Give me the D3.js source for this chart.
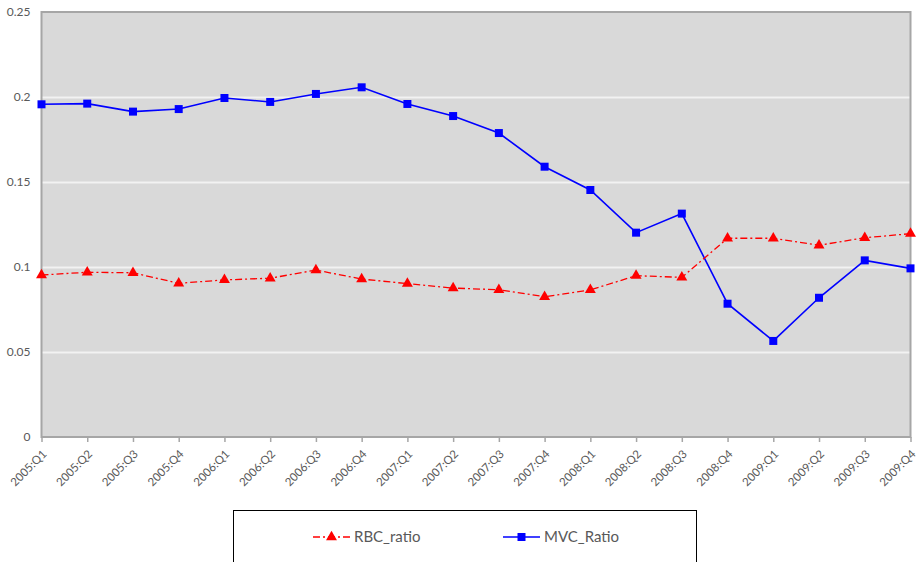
<!DOCTYPE html>
<html>
<head>
<meta charset="utf-8">
<script src="https://cdn.jsdelivr.net/npm/d3@7/dist/d3.min.js"></script>
<style>
  html, body { margin: 0; padding: 0; background: #fff; }
  svg { display: block; }
</style>
</head>
<body>
<svg id="chart" width="918" height="562"></svg>
<script>
// Quarterly periods
const quarters = [
  "2005:Q1","2005:Q2","2005:Q3","2005:Q4",
  "2006:Q1","2006:Q2","2006:Q3","2006:Q4",
  "2007:Q1","2007:Q2","2007:Q3","2007:Q4",
  "2008:Q1","2008:Q2","2008:Q3","2008:Q4",
  "2009:Q1","2009:Q2","2009:Q3","2009:Q4"
];

// Series values
const rbcRatio = [
  0.0953, 0.0969, 0.0966, 0.0904,
  0.0924, 0.0934, 0.0982, 0.0929,
  0.0902, 0.0876, 0.0866, 0.0825,
  0.0865, 0.0949, 0.0939, 0.1169,
  0.1169, 0.1128, 0.1172, 0.1196
];
const mvcRatio = [
  0.1957, 0.1961, 0.1914, 0.1929,
  0.1994, 0.1971, 0.2018, 0.2057,
  0.1959, 0.1888, 0.1788, 0.1590,
  0.1453, 0.1202, 0.1314, 0.0784,
  0.0565, 0.0819, 0.1039, 0.0992
];

// Y axis ticks
const yTicks = [0, 0.05, 0.1, 0.15, 0.2, 0.25];
const yTickLabels = ["0", "0.05", "0.1", "0.15", "0.2", "0.25"];

const seriesNames = ["RBC_ratio", "MVC_Ratio"];

const svg = d3.select("#chart");
const plot = { left: 41.5, right: 910.5, top: 12, bottom: 437 };

const x = d3.scalePoint().domain(quarters).range([plot.left, plot.right]);
const y = d3.scaleLinear().domain([0, 0.25]).range([plot.bottom, plot.top]);

// Plot background
svg.append("rect")
  .attr("x", plot.left).attr("y", plot.top)
  .attr("width", plot.right - plot.left).attr("height", plot.bottom - plot.top)
  .attr("fill", "#d9d9d9");

// Gridlines
svg.append("g")
  .selectAll("line")
  .data(yTicks.filter(v => v > 0 && v < 0.25))
  .join("line")
  .attr("x1", plot.left).attr("x2", plot.right)
  .attr("y1", d => Math.round(y(d)) + 0.5).attr("y2", d => Math.round(y(d)) + 0.5)
  .attr("stroke", "#f2f2f2").attr("stroke-width", 2);

// Plot border
svg.append("rect")
  .attr("x", plot.left).attr("y", plot.top)
  .attr("width", plot.right - plot.left).attr("height", plot.bottom - plot.top)
  .attr("fill", "none").attr("stroke", "#a6a6a6").attr("stroke-width", 2);

// Y axis
const yAxis = d3.axisLeft(y)
  .tickValues(yTicks)
  .tickFormat((d, i) => yTickLabels[i])
  .tickSize(0).tickPadding(11);
const gy = svg.append("g").attr("transform", `translate(${plot.left},0)`).call(yAxis);
gy.select(".domain").remove();
gy.selectAll("text")
  .attr("fill", "#595959")
  .style("font-family", "Lato, 'Open Sans', sans-serif")
  .style("font-size", "12px");

// X axis with rotated category labels
const xAxis = d3.axisBottom(x).tickSize(5).tickSizeOuter(0);
const gx = svg.append("g").attr("transform", `translate(0,${plot.bottom})`).call(xAxis);
gx.select(".domain").remove();
gx.selectAll(".tick line").attr("stroke", "#a6a6a6").attr("stroke-width", 1.5);
gx.selectAll("text")
  .attr("fill", "#595959")
  .style("font-family", "Lato, 'Open Sans', sans-serif")
  .style("font-size", "11.5px")
  .attr("text-anchor", "end")
  .attr("x", 0).attr("y", 0)
  .attr("dy", "0.35em")
  .attr("transform", "translate(2.5,15) rotate(-45)");

// Lines
const line = d3.line().x((d, i) => x(quarters[i])).y(d => y(d));

svg.append("path")
  .datum(mvcRatio)
  .attr("d", line)
  .attr("fill", "none")
  .attr("stroke", "#0000ff")
  .attr("stroke-width", 1.6);

svg.append("path")
  .datum(rbcRatio)
  .attr("d", line)
  .attr("fill", "none")
  .attr("stroke", "#ff0000")
  .attr("stroke-width", 1.3)
  .attr("stroke-dasharray", "7,3,2,3");

// Markers
const square = d3.symbol().type(d3.symbolSquare).size(64);
const triangle = d3.symbol().type(d3.symbolTriangle).size(52);

svg.append("g")
  .selectAll("path")
  .data(mvcRatio)
  .join("path")
  .attr("d", square)
  .attr("transform", (d, i) => `translate(${x(quarters[i])},${y(d)})`)
  .attr("fill", "#0000ff");

svg.append("g")
  .selectAll("path")
  .data(rbcRatio)
  .join("path")
  .attr("d", triangle)
  .attr("transform", (d, i) => `translate(${x(quarters[i])},${y(d)})`)
  .attr("fill", "#ff0000");

// Legend
const legend = svg.append("g");
legend.append("rect")
  .attr("x", 233.5).attr("y", 510.5)
  .attr("width", 463).attr("height", 70)
  .attr("fill", "#fff").attr("stroke", "#000").attr("stroke-width", 1);

const legendItems = [
  { name: seriesNames[0], x0: 313, color: "#ff0000", dash: "7,3,2,3", sym: triangle, w: 1.3 },
  { name: seriesNames[1], x0: 503, color: "#0000ff", dash: null, sym: square, w: 1.6 }
];
const ly = 537;
legendItems.forEach(it => {
  legend.append("line")
    .attr("x1", it.x0).attr("x2", it.x0 + 37)
    .attr("y1", ly).attr("y2", ly)
    .attr("stroke", it.color).attr("stroke-width", it.w)
    .attr("stroke-dasharray", it.dash);
  legend.append("path")
    .attr("d", it.sym)
    .attr("transform", `translate(${it.x0 + 18.5},${ly})`)
    .attr("fill", it.color);
  legend.append("text")
    .attr("x", it.x0 + 41).attr("y", ly)
    .attr("dy", "0.35em")
    .attr("fill", "#595959")
    .style("font-family", "Lato, 'Open Sans', sans-serif")
    .style("font-size", "15px")
    .text(it.name);
});
</script>
</body>
</html>
